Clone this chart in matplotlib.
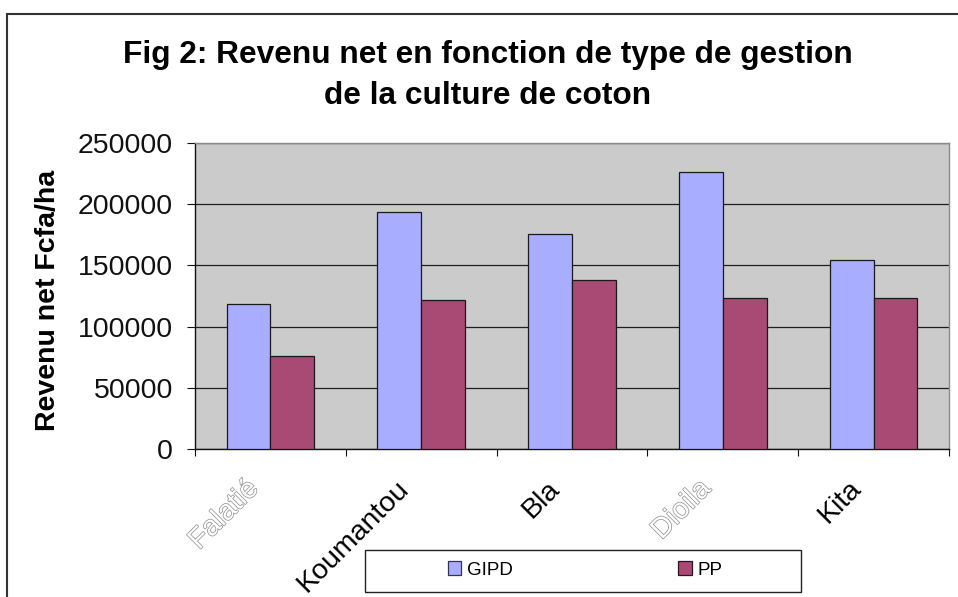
import numpy as np
import matplotlib
matplotlib.use("Agg")
import matplotlib.pyplot as plt
import matplotlib.patheffects as pe
from matplotlib.patches import Rectangle, Patch
from matplotlib.ticker import FuncFormatter
import matplotlib.transforms as mtransforms

plt.rcParams['font.family'] = ['Liberation Sans', 'DejaVu Sans']

categories = ["Falatié", "Koumantou", "Bla", "Dioila", "Kita"]
gipd = [118500, 193500, 175500, 226000, 154000]
pp = [76000, 121500, 138000, 123000, 123000]
series_names = ["GIPD", "PP"]
yticks = [0, 50000, 100000, 150000, 200000, 250000]
title_lines = ["Fig 2: Revenu net en fonction de type de gestion",
               "de la culture de coton"]
ylabel = "Revenu net Fcfa/ha"
hollow = ["Falatié", "Dioila"]

W, H = 958, 597
fig = plt.figure(figsize=(W / 100, H / 100), dpi=100)
fig.patch.set_facecolor('white')

L, R, T, B = 195, 949, 142.7, 449.3
ax = fig.add_axes([L / W, 1 - B / H, (R - L) / W, (B - T) / H])
ax.set_facecolor('#CBCBCB')

c_gipd = '#A9ADFF'
c_pp = '#A94A74'
x = np.arange(len(categories))
bw = 0.29
ax.bar(x - bw / 2, gipd, bw, color=c_gipd, edgecolor='#1a1a1a', linewidth=0.9, zorder=3)
ax.bar(x + bw / 2, pp, bw, color=c_pp, edgecolor='#1a1a1a', linewidth=0.9, zorder=3)

ax.set_xlim(-0.5, len(categories) - 0.5)
ax.set_ylim(0, 250000)
ax.set_yticks(yticks)
ax.yaxis.set_major_formatter(FuncFormatter(lambda v, p: f"{int(v)}"))
ax.yaxis.grid(True, color='#1e1e1e', linewidth=0.9, zorder=1)
ax.set_axisbelow(True)

for s in ['left', 'bottom']:
    ax.spines[s].set_color('#111111')
    ax.spines[s].set_linewidth(1.0)
for s in ['top', 'right']:
    ax.spines[s].set_color('#8a8a8a')
    ax.spines[s].set_linewidth(1.0)

ax.tick_params(axis='y', direction='out', length=5.8, width=0.8, labelsize=20.5, pad=10, colors='#111111')
ax.set_xticks(np.arange(-0.5, len(categories), 1.0))
ax.set_xticklabels([])
ax.tick_params(axis='x', which='major', direction='out', length=5.3, width=0.8, colors='#111111')
ax.set_xticks(x, categories, minor=True)
ax.tick_params(axis='x', which='minor', length=0, pad=19, labelsize=20.5)
off = mtransforms.ScaledTranslation(-25 / 100, 0, fig.dpi_scale_trans)
for lab in ax.get_xticklabels(minor=True):
    lab.set_rotation(45)
    lab.set_ha('right')
    lab.set_va('top')
    lab.set_rotation_mode('anchor')
    lab.set_transform(lab.get_transform() + off)
    if lab.get_text() in hollow:
        lab.set_color('white')
        lab.set_path_effects([pe.withStroke(linewidth=1.0, foreground='#8c8c8c')])

# title
fig.text(488 / W, 1 - 63 / H, title_lines[0], ha='center', va='baseline',
         fontsize=22.8, fontweight='bold')
fig.text(488 / W, 1 - 104 / H, title_lines[1], ha='center', va='baseline',
         fontsize=22.8, fontweight='bold')

# y label
fig.text(48 / W, 1 - 300 / H, ylabel, rotation=90, ha='center', va='center',
         fontsize=20.5, fontweight='bold')

# legend box
fig.add_artist(Rectangle((365 / W, 1 - 592 / H), (801 - 365) / W, (592 - 550) / H,
                         transform=fig.transFigure, facecolor='white',
                         edgecolor='#222222', linewidth=1.0, zorder=5))
handles = [Patch(facecolor=c_gipd, edgecolor='#333355', linewidth=0.9),
           Patch(facecolor=c_pp, edgecolor='#331122', linewidth=0.9)]
leg = fig.legend(handles, series_names, loc='center', bbox_to_anchor=(585 / W, 1 - 570 / H),
                 ncol=2, frameon=False, handlelength=0.7, handleheight=0.7,
                 handletextpad=0.3, columnspacing=8.85, borderpad=0.0, borderaxespad=0.0,
                 prop={'family': 'Liberation Sans', 'size': 13.5})
leg.set_zorder(6)

# outer chart border
fig.add_artist(Rectangle((7 / W, -0.2), 1.2, (597 - 14) / H + 0.2,
                         transform=fig.transFigure, fill=False,
                         edgecolor='#333333', linewidth=1.5, zorder=10))

fig.savefig('out.png', dpi=100)
